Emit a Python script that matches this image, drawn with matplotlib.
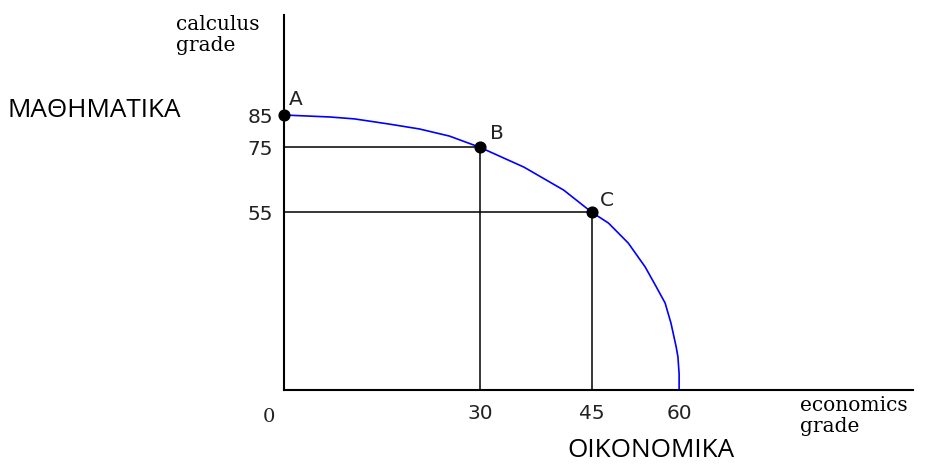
import numpy as np
import matplotlib
matplotlib.use("Agg")
import matplotlib.pyplot as plt

# data
curve_x = [0, 7.0, 10.8, 16.1, 20.7, 25.3, 30, 35.9, 41.25, 45, 47.9, 51.3, 54.2, 55.9, 57.6, 58.6, 59.5, 59.8, 60, 60]
curve_y = [85, 84.4, 83.8, 82.2, 80.7, 78.5, 75, 68.9, 61.8, 55, 51.6, 45.4, 38.0, 32.5, 26.9, 20.7, 13.3, 10.2, 5, 0]

point_names = ["A", "B", "C"]
point_x = [0, 30, 45]
point_y = [85, 75, 55]

x_ticks = [30, 45, 60]
y_ticks = [55, 75, 85]

# the economics axis in the picture is not evenly spaced
x_marks = [0, 30, 45, 60, 100]
x_pix = [0, 197, 309, 397, 632]

def fwd(x):
    return np.interp(x, x_marks, x_pix)

def inv(p):
    return np.interp(p, x_pix, x_marks)

W, H = 926, 465
fig = plt.figure(figsize=(W/100, H/100), dpi=100)
ax = fig.add_axes([284/W, (H-390)/H, (913-284)/W, (390-15)/H])

ax.set_xscale("function", functions=(fwd, inv))
ax.set_xlim(0, 100)
ax.set_ylim(0, 375/3.235)

ax.spines["top"].set_visible(False)
ax.spines["right"].set_visible(False)
ax.spines["left"].set_linewidth(1.5)
ax.spines["bottom"].set_linewidth(1.5)

ax.set_xticks(x_ticks)
ax.set_xticklabels([str(v) for v in x_ticks])
ax.set_yticks(y_ticks)
ax.set_yticklabels([str(v) for v in y_ticks])
ax.tick_params(axis="x", length=0, pad=10, labelsize=14.5, labelcolor="#222222")
ax.tick_params(axis="y", length=0, pad=8, labelsize=14.5, labelcolor="#222222")
ax.minorticks_off()

# guide lines to B and C
ax.hlines(point_y[1:], 0, point_x[1:], color="black", lw=1.1)
ax.vlines(point_x[1:], 0, point_y[1:], color="black", lw=1.1)

# production possibility curve
ax.plot(curve_x, curve_y, color="#0000ff", lw=1.2, clip_on=False)
ax.scatter(point_x, point_y, s=60, color="black", zorder=5, clip_on=False)

offs = [(5, 10), (10, 8), (8, 6)]
for name, px, py, o in zip(point_names, point_x, point_y, offs):
    ax.annotate(name, (px, py), xytext=o, textcoords="offset pixels",
                fontsize=14.5, color="#222222")

ax.annotate("0", (0, 0), xytext=(-21, -32), textcoords="offset pixels",
            fontsize=14, color="#222222", family="DejaVu Serif")

# axis titles
fig.text(176/W, 1-15/H, "calculus\ngrade", fontsize=14.5, family="DejaVu Serif",
         va="top", ha="left", linespacing=1.15)
fig.text(800/W, 1-396/H, "economics\ngrade", fontsize=14.5, family="DejaVu Serif",
         va="top", ha="left", linespacing=1.15)

fig.text(8/W, 1-117/H, "ΜΑΘΗΜΑΤΙΚΑ", fontsize=18.8, family="Open Sans",
         va="baseline", ha="left")
fig.text(567/W, 1-457/H, "ΟΙΚΟΝΟΜΙΚΑ", fontsize=18.8, family="Open Sans",
         va="baseline", ha="left")

fig.savefig("out.png", dpi=100)
